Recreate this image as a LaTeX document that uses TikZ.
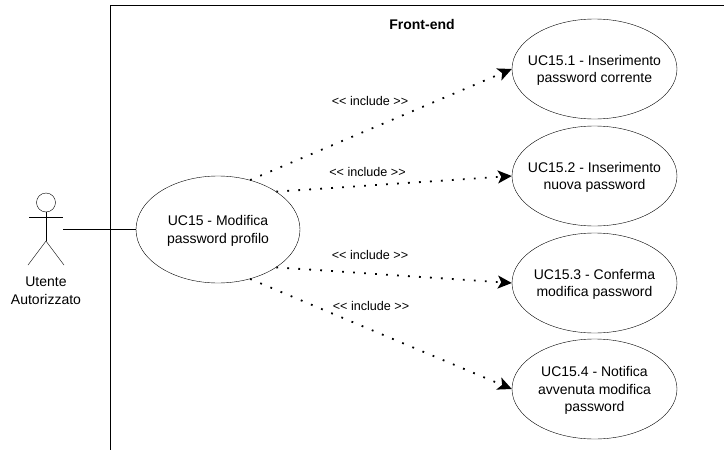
\documentclass[tikz,border=0pt]{standalone}
\usepackage{fontspec}
\setmainfont{Liberation Sans}
\usetikzlibrary{shapes.geometric,arrows.meta}
\tikzset{
  usecase/.style={draw,ellipse,inner sep=-12pt,minimum width=165,minimum height=100,align=center,text depth=-1pt,font=\fontsize{14}{17.5}\selectfont},
  include/.style={line width=1.8pt,dash pattern=on 1.8pt off 9.2pt,-{Stealth[length=14pt,width=13pt,inset=3.5pt]}},
  includelabel/.style={inner sep=0pt,font=\fontsize{12.6}{15}\selectfont}
}
\begin{document}
\begin{tikzpicture}[x=1pt,y=-1pt]
    \useasboundingbox (0,0) rectangle (724,450);

      \coordinate (frameb) at (110.5,450);
      \coordinate (framet) at (110.5,5);
      \coordinate (framer) at (724,5);
      \draw (frameb)--(framet)--(framer);
      \draw (422,24)node[inner sep=0pt,font=\fontsize{14}{16}\selectfont\bfseries](frontend){Front-end};

      \draw (46,202.5)node[draw,circle,inner sep=0pt,minimum size=19](head){};
      \coordinate (hip) at (46,241);
      \coordinate (arml) at (29,217);
      \coordinate (armr) at (63,217);
      \coordinate (footl) at (28,265);
      \coordinate (footr) at (64,265);
      \coordinate (hand) at (63,229.5);
      \draw (head.south)--(hip);
      \draw (arml)--(armr);
      \draw (footl)--(hip)--(footr);
      \draw (46,291)node[inner sep=0pt,align=center,font=\fontsize{14}{18}\selectfont](utente){Utente\\Autorizzato};

      \draw (218,229.5)node[usecase,minimum width=164,minimum height=107](main){UC15 - Modifica\\password profilo};
      \draw (594.5,69)node[usecase](uc1){UC15.1 - Inserimento\\password corrente};
      \draw (594.5,176)node[usecase](uc2){UC15.2 - Inserimento\\nuova password};
      \draw (594.5,283)node[usecase](uc3){UC15.3 - Conferma\\modifica password};
      \draw (594.5,389)node[usecase](uc4){UC15.4 - Notifica\\avvenuta modifica\\password};

      \draw (hand)--(main.west);

      \draw[include] (main.57)--(uc1.west);
      \draw[include] (main.33)--(uc2.west);
      \draw[include] (main.-33)--(uc3.west);
      \draw[include] (main.-57)--(uc4.west);

      \draw (370,101)node[includelabel](inc1){<{}< include >{}>};
      \draw (367.5,172)node[includelabel](inc2){<{}< include >{}>};
      \draw (370,254.5)node[includelabel](inc3){<{}< include >{}>};
      \draw (371,305.5)node[includelabel](inc4){<{}< include >{}>};
  \end{tikzpicture}
\end{document}
